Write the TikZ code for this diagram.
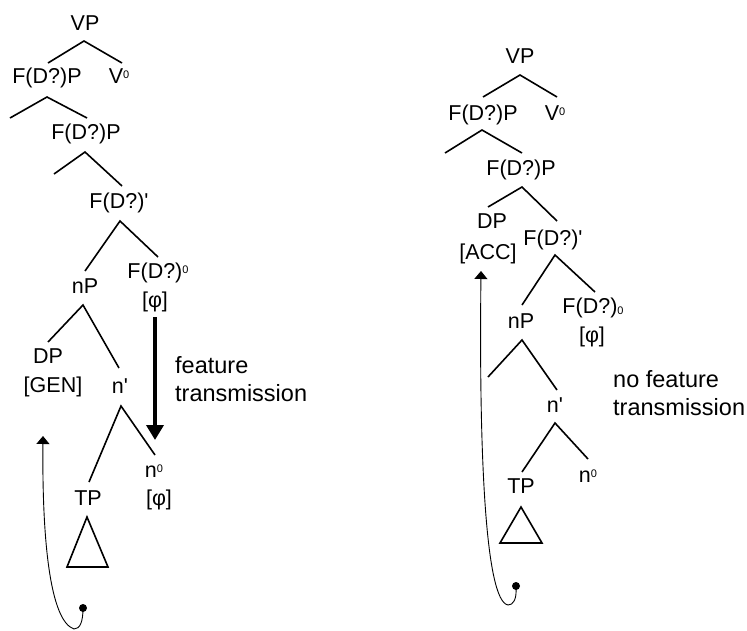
\documentclass[tikz,border=0pt]{standalone}
\usepackage{fontspec}
\setmainfont{Liberation Sans}
\newfontfamily\plainf{Liberation Sans}
\usetikzlibrary{arrows.meta}
\newcommand{\supz}{\raisebox{5pt}{\fontsize{11}{11}\selectfont 0}}
\newcommand{\subz}{\raisebox{-1.5pt}{\fontsize{11}{11}\selectfont 0}}
\newcommand{\pr}{{\plainf'}}
\begin{document}
\begin{tikzpicture}[x=1pt,y=-1pt,
  lbl/.style={anchor=base,inner sep=0pt,font=\fontsize{21.5}{24}\selectfont},
  note/.style={anchor=base west,inner sep=0pt,font=\fontsize{23.5}{28}\selectfont},
  branch/.style={line width=1.6pt,line join=miter},
  tri/.style={line width=1.6pt},
  thinarrow/.style={line width=0.9pt,-{Triangle[width=13pt,length=8pt]}},
  thickarrow/.style={line width=3.6pt,-{Triangle[width=17pt,length=15pt]}},
  dotmark/.style={circle,fill=black,inner sep=0pt,minimum size=8pt}]
\useasboundingbox (0,0) rectangle (747,630);

% ---------- left tree ----------
\node[lbl] (lVP) at (85,30) {VP};
\node[lbl] (lFP1) at (47,83) {F(D?)P};
\node[lbl] (lV0) at (119,83) {V\supz};
\node[lbl] (lFP2) at (86,139) {F(D?)P};
\node[lbl] (lFbar) at (119,208) {F(D?)\pr};
\node[lbl] (lnP) at (85,293) {nP};
\node[lbl] (lF0) at (158,278) {F(D?)\supz};
\node[lbl] (lphi1) at (155,307) {[φ]};
\node[lbl] (lDP) at (48,363) {DP};
\node[lbl] (lGEN) at (53,392) {[GEN]};
\node[lbl] (lnbar) at (120,393) {n\pr};
\node[lbl] (lTP) at (88,505) {TP};
\node[lbl] (ln0) at (154,477) {n\supz};
\node[lbl] (lphi2) at (159,505) {[φ]};
\node[note] (lnote1) at (175,373) {feature};
\node[note] (lnote2) at (175,401) {transmission};

\coordinate (la1) at (84,41);  \coordinate (la1l) at (48,63);  \coordinate (la1r) at (122,63);
\coordinate (la2) at (47,97);  \coordinate (la2l) at (10,118); \coordinate (la2r) at (87,118);
\coordinate (la3) at (85,152); \coordinate (la3l) at (54,174); \coordinate (la3r) at (122,186);
\coordinate (la4) at (120,221);\coordinate (la4l) at (85,271); \coordinate (la4r) at (158,257);
\coordinate (la5) at (83,305); \coordinate (la5l) at (48,342); \coordinate (la5r) at (119,368);
\coordinate (la6) at (121,406);\coordinate (la6l) at (89,482); \coordinate (la6r) at (155,455);
\draw[branch] (la1l) -- (la1) -- (la1r);
\draw[branch] (la2l) -- (la2) -- (la2r);
\draw[branch] (la3l) -- (la3) -- (la3r);
\draw[branch] (la4l) -- (la4) -- (la4r);
\draw[branch] (la5l) -- (la5) -- (la5r);
\draw[branch] (la6l) -- (la6) -- (la6r);
\coordinate (ltA) at (87,517); \coordinate (ltB) at (67,567); \coordinate (ltC) at (108,567);
\draw[tri] (ltA) -- (ltB) -- (ltC) -- cycle;

\coordinate (lthS) at (155,317); \coordinate (lthE) at (155,440);
\draw[thickarrow] (lthS) -- (lthE);

\node[dotmark] (ldot) at (83,608) {};
\coordinate (lbot) at (74,629);
\coordinate (ltip) at (43,436);
\draw[line width=0.9pt] (ldot.center) .. controls (83,622) and (80,629) .. (lbot);
\draw[thinarrow] (lbot) .. controls (50,621) and (42,540) .. (ltip);

% ---------- right tree ----------
\node[lbl] (rVP) at (520,63) {VP};
\node[lbl] (rFP1) at (483,120) {F(D?)P};
\node[lbl] (rV0) at (555,120) {V\supz};
\node[lbl] (rFP2) at (521,175) {F(D?)P};
\node[lbl] (rDP) at (492,228) {DP};
\node[lbl] (rACC) at (488,259) {[ACC]};
\node[lbl] (rFbar) at (553,245) {F(D?)\pr};
\node[lbl] (rnP) at (521,328) {nP};
\node[lbl] (rF0) at (593,313) {F(D?)\subz};
\node[lbl] (rphi) at (592,342) {[φ]};
\node[lbl] (rnbar) at (555,412) {n\pr};
\node[lbl] (rTP) at (521,493) {TP};
\node[lbl] (rn0) at (588,482) {n\supz};
\node[note] (rnote1) at (613,387) {no feature};
\node[note] (rnote2) at (613,415) {transmission};

\coordinate (ra1) at (520,75);  \coordinate (ra1l) at (483,97);  \coordinate (ra1r) at (557,97);
\coordinate (ra2) at (482,130); \coordinate (ra2l) at (445,153); \coordinate (ra2r) at (522,153);
\coordinate (ra3) at (522,187); \coordinate (ra3l) at (488,207); \coordinate (ra3r) at (557,221);
\coordinate (ra4) at (555,255); \coordinate (ra4l) at (522,305); \coordinate (ra4r) at (595,292);
\coordinate (ra5) at (522,340); \coordinate (ra5l) at (488,377); \coordinate (ra5r) at (557,390);
\coordinate (ra6) at (555,423); \coordinate (ra6l) at (522,472); \coordinate (ra6r) at (588,459);
\draw[branch] (ra1l) -- (ra1) -- (ra1r);
\draw[branch] (ra2l) -- (ra2) -- (ra2r);
\draw[branch] (ra3l) -- (ra3) -- (ra3r);
\draw[branch] (ra4l) -- (ra4) -- (ra4r);
\draw[branch] (ra5l) -- (ra5) -- (ra5r);
\draw[branch] (ra6l) -- (ra6) -- (ra6r);
\coordinate (rtA) at (521,507); \coordinate (rtB) at (500,543); \coordinate (rtC) at (542,543);
\draw[tri] (rtA) -- (rtB) -- (rtC) -- cycle;

\node[dotmark] (rdot) at (516,586) {};
\coordinate (rbot) at (508,605);
\coordinate (rtip) at (481,271);
\draw[line width=0.9pt] (rdot.center) .. controls (517,600) and (513,605) .. (rbot);
\draw[thinarrow] (rbot) .. controls (485,601) and (479,450) .. (rtip);
\end{tikzpicture}
\end{document}
